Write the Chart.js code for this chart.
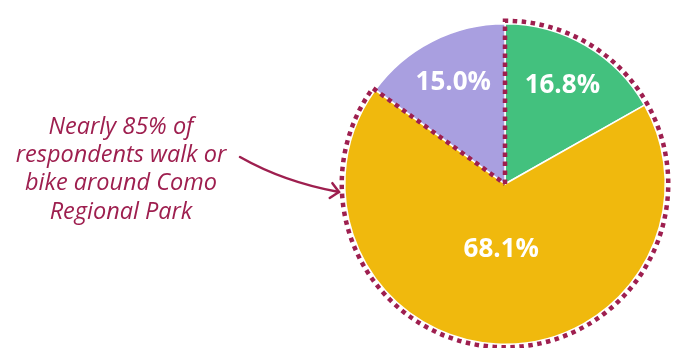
<!DOCTYPE html>
<html>
<head>
<meta charset="utf-8">
<script src="https://cdn.jsdelivr.net/npm/chart.js@4"></script>
<style>
  html, body { margin: 0; padding: 0; background: #fff; }
  #wrap { width: 678px; height: 348px; position: relative; }
</style>
</head>
<body>
<div id="wrap"><canvas id="pie"></canvas></div>
<script>
const labels = ['Walk or bike (A)', 'Walk or bike (B)', 'Other'];
const shares = [16.8, 68.1, 15.0];
const sliceColors = ['#43c17e', '#f0b90d', '#a99fe0'];
const highlighted = [0, 1]; // slices inside the dotted outline
const noteLines = ['Nearly 85% of', 'respondents walk or', 'bike around Como', 'Regional Park'];

const MAROON = '#9e1f4f';

const labelPlugin = {
    id: 'sliceLabels',
    afterDatasetsDraw(chart) {
        const ctx = chart.ctx;
        const arcs = chart.getDatasetMeta(0).data;

        // dotted outline around the highlighted slices
        const first = arcs[highlighted[0]];
        const last = arcs[highlighted[highlighted.length - 1]];
        const cx = first.x, cy = first.y, r = first.outerRadius + 3;
        ctx.save();
        ctx.strokeStyle = MAROON;
        ctx.lineWidth = 4.5;
        ctx.setLineDash([4.5, 4.5]);
        ctx.beginPath();
        ctx.moveTo(cx, cy);
        ctx.lineTo(cx + r * Math.cos(first.startAngle), cy + r * Math.sin(first.startAngle));
        ctx.arc(cx, cy, r, first.startAngle, last.endAngle);
        ctx.lineTo(cx, cy);
        ctx.stroke();
        ctx.restore();

        // percentage labels
        ctx.save();
        ctx.fillStyle = '#fff';
        ctx.font = 'bold 26px "Open Sans"';
        ctx.textAlign = 'center';
        ctx.textBaseline = 'middle';
        arcs.forEach((arc, i) => {
            const mid = (arc.startAngle + arc.endAngle) / 2;
            const f = shares[i] > 50 ? 0.41 : 0.71;
            const x = arc.x + Math.cos(mid) * arc.outerRadius * f;
            const y = arc.y + Math.sin(mid) * arc.outerRadius * f;
            ctx.fillText(shares[i].toFixed(1) + '%', x, y);
        });
        ctx.restore();

        // annotation text
        ctx.save();
        ctx.fillStyle = MAROON;
        ctx.font = 'italic 23.5px "Open Sans"';
        ctx.textAlign = 'center';
        ctx.textBaseline = 'middle';
        noteLines.forEach((t, i) => ctx.fillText(t, 121, 127 + i * 28.3));

        // arrow to the pie
        const tipAng = Math.PI - 0.05;
        const tx = cx + Math.cos(tipAng) * (r + 3);
        const ty = cy + 8;
        ctx.strokeStyle = MAROON;
        ctx.lineWidth = 2.5;
        ctx.lineCap = 'round';
        ctx.beginPath();
        ctx.moveTo(240, 157);
        ctx.quadraticCurveTo(284, 182, tx, ty);
        ctx.stroke();
        const dir = Math.atan2(ty - 182, tx - 284);
        ctx.beginPath();
        ctx.moveTo(tx - 11 * Math.cos(dir - 0.75), ty - 11 * Math.sin(dir - 0.75));
        ctx.lineTo(tx, ty);
        ctx.lineTo(tx - 11 * Math.cos(dir + 0.75), ty - 11 * Math.sin(dir + 0.75));
        ctx.stroke();
        ctx.restore();
    }
};

new Chart(document.getElementById('pie').getContext('2d'), {
    type: 'pie',
    data: {
        labels,
        datasets: [{
            data: shares,
            backgroundColor: sliceColors,
            borderColor: '#ffffff',
            borderWidth: 1.5
        }]
    },
    options: {
        responsive: true,
        maintainAspectRatio: false,
        animation: false,
        layout: { padding: { left: 344, right: 12, top: 23, bottom: 3 } },
        plugins: {
            legend: { display: false },
            tooltip: { enabled: false }
        }
    },
    plugins: [labelPlugin]
});
</script>
</body>
</html>
